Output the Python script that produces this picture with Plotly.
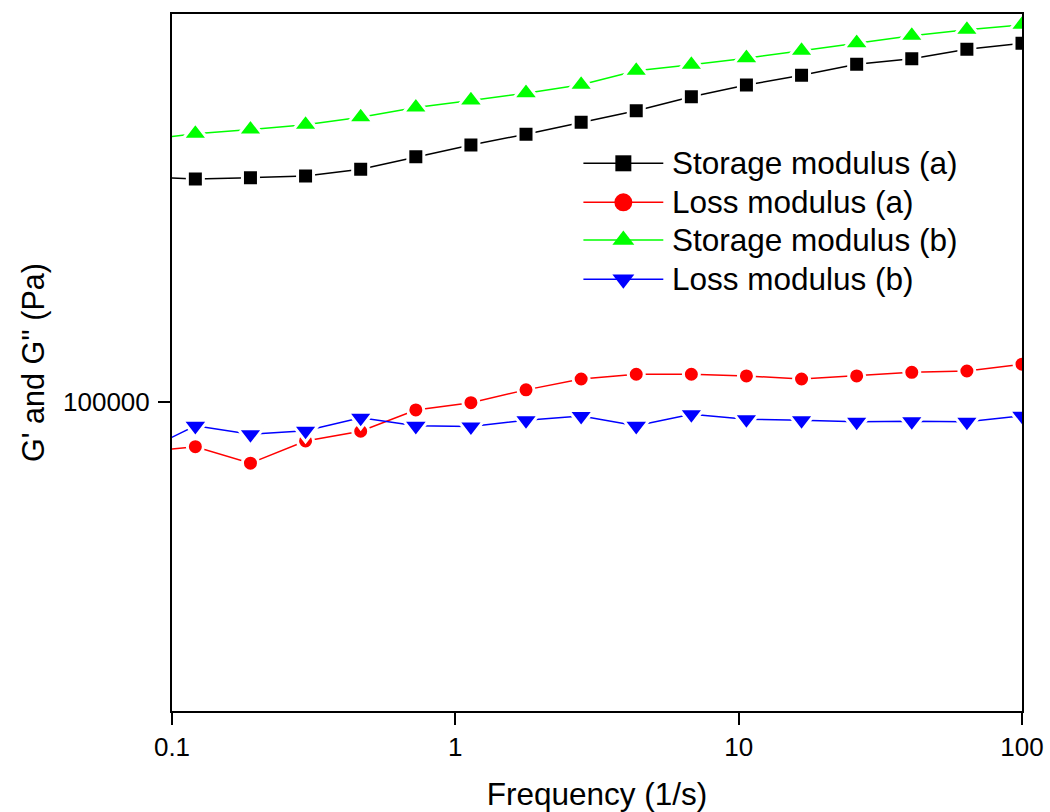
import plotly.graph_objects as go

# Oscillatory frequency sweep (1/s)
frequency = [0.0773, 0.1209, 0.1892, 0.2961, 0.4634, 0.7254, 1.135, 1.776, 2.780,
             4.350, 6.808, 10.65, 16.67, 26.09, 40.83, 63.90, 100.0]

# Moduli in Pa
storage_a = [210600, 208900, 209800, 211000, 215800, 224900, 233800, 242200, 252000,
             261800, 274200, 285000, 294300, 305200, 310900, 320700, 327100]
loss_a = [84730, 86290, 81700, 87930, 90790, 97410, 99770, 104100, 107900,
          109600, 109600, 109000, 107900, 109000, 110300, 110800, 113300]
storage_b = [237500, 242600, 246000, 249900, 256100, 264600, 270800, 277400, 285200,
             298700, 304700, 311400, 319100, 327200, 335300, 342000, 347700]
loss_b = [84590, 92440, 89900, 90940, 94950, 92440, 92230, 94170, 95500,
          92440, 96050, 94500, 94170, 93680, 93870, 93680, 95540]

series_names = ["Storage modulus (a)", "Loss modulus (a)",
                "Storage modulus (b)", "Loss modulus (b)"]

x_ticks = [0.1, 1, 10, 100]
x_tick_labels = ["0.1", "1", "10", "100"]
y_ticks = [100000]
y_tick_labels = ["100000"]

FONT = "Liberation Sans, Arial, sans-serif"
GAP = 3  # white halo around markers so the connecting lines stop short of them

styles = [
    # colour, symbol, plot marker size, key marker size
    ("#000000", "square", 16, 16),
    ("#ff0000", "circle", 16, 18),
    ("#00ff00", "triangle-up", 22, 19),
    ("#0000ff", "triangle-down", 22, 19),
]
values_list = [storage_a, loss_a, storage_b, loss_b]

fig = go.Figure()
for name, values, (color, symbol, size, _) in zip(series_names, values_list, styles):
    fig.add_trace(go.Scatter(
        x=frequency, y=values, name=name, mode="lines+markers",
        line=dict(color=color, width=1.5),
        marker=dict(symbol=symbol, size=size, color=color,
                    line=dict(color="white", width=GAP)),
        cliponaxis=True, showlegend=False,
    ))

# Legend key: line sample with a centred marker, drawn on an overlay
# axis pair whose 0..1 range coincides with the plot area.
key_x0, key_xm, key_x1 = 0.484, 0.531, 0.578
key_text_x = 0.5859
key_rows = [0.7858, 0.7298, 0.6758, 0.6194]
for name, row, (color, symbol, _, ksize) in zip(series_names, key_rows, styles):
    fig.add_trace(go.Scatter(
        x=[key_x0, key_x1], y=[row, row],
        xaxis="x2", yaxis="y2", mode="lines",
        line=dict(color=color, width=1.5),
        showlegend=False, hoverinfo="skip",
    ))
    fig.add_trace(go.Scatter(
        x=[key_xm], y=[row],
        xaxis="x2", yaxis="y2", mode="markers",
        marker=dict(symbol=symbol, size=ksize, color=color, opacity=1,
                    line=dict(color=color, width=0)),
        showlegend=False, hoverinfo="skip", cliponaxis=False,
    ))
    fig.add_annotation(
        x=key_text_x, y=row, xref="paper", yref="paper",
        xanchor="left", yanchor="middle", showarrow=False,
        text=name, font=dict(family=FONT, size=31.5, color="black"),
    )

axis_common = dict(
    showline=True, linecolor="black", linewidth=2, mirror=True,
    showgrid=False, zeroline=False, automargin=False,
    ticks="outside", ticklen=12, tickwidth=2, tickcolor="black",
    tickfont=dict(family=FONT, size=26, color="black"),
)

fig.update_layout(
    xaxis=dict(
        type="log", range=[-1, 2],
        tickmode="array", tickvals=x_ticks, ticktext=x_tick_labels,
        title=dict(text="Frequency (1/s)", font=dict(family=FONT, size=31.5, color="black"),
                   standoff=22),
        **axis_common,
    ),
    yaxis=dict(
        type="log", range=[4.5567, 5.5567],
        tickmode="array", tickvals=y_ticks, ticktext=y_tick_labels,
        ticklabelstandoff=3,
        title=dict(text="G' and G'' (Pa)", font=dict(family=FONT, size=30.5, color="black"),
                   standoff=9),
        **axis_common,
    ),
    xaxis2=dict(overlaying="x", anchor="y2", range=[0, 1], visible=False,
                fixedrange=True, automargin=False),
    yaxis2=dict(overlaying="y", anchor="x2", range=[0, 1], visible=False,
                fixedrange=True, automargin=False),
    width=1050, height=812,
    margin=dict(l=172, r=28, t=14, b=101),
    paper_bgcolor="white", plot_bgcolor="white",
    font=dict(family=FONT, color="black"),
    showlegend=False,
)

fig.write_html("out.html")
